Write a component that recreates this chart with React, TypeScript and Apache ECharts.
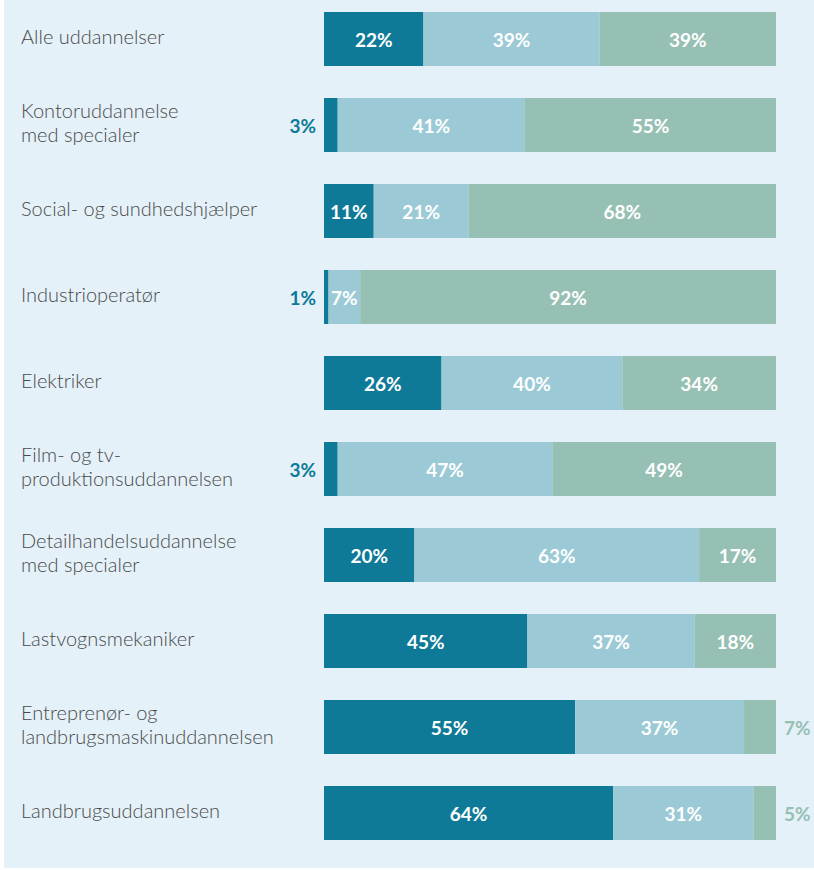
import React, { useEffect, useRef } from "react";
import * as echarts from "echarts";

const categories = [
  "Alle uddannelser",
  "Kontoruddannelse\nmed specialer",
  "Social- og sundhedshjælper",
  "Industrioperatør",
  "Elektriker",
  "Film- og tv-\nproduktionsuddannelsen",
  "Detailhandelsuddannelse\nmed specialer",
  "Lastvognsmekaniker",
  "Entreprenør- og\nlandbrugsmaskinuddannelsen",
  "Landbrugsuddannelsen",
];
const seriesA = [22, 3, 11, 1, 26, 3, 20, 45, 55, 64];
const seriesB = [39, 41, 21, 7, 40, 47, 63, 37, 37, 31];
const seriesC = [39, 55, 68, 92, 34, 49, 17, 18, 7, 5];

const colorA = "#0e7a98";
const colorB = "#9bcad6";
const colorC = "#97c0b4";

export default function App() {
  const ref = useRef<HTMLDivElement>(null);
  useEffect(() => {
    if (!ref.current) return;
    const chart = echarts.init(ref.current, null, { renderer: "svg" });
    const totals = categories.map((_, i) => seriesA[i] + seriesB[i] + seriesC[i]);
    const font = "Lato, 'Noto Sans', sans-serif";
    const mk = (arr: number[], color: string, kind: number) => ({
      type: "bar",
      stack: "s",
      barWidth: 54,
      itemStyle: { color },
      data: arr.map((v, i) => {
        const small = v <= 5 || (kind === 2 && v <= 7);
        let label: any = {
          show: true,
          position: "inside",
          color: "#ffffff",
          fontFamily: font,
          fontWeight: "bold",
          fontSize: 19,
          formatter: `${v}%`,
        };
        if (small && kind === 0) {
          label = { ...label, position: "left", distance: 8, color: colorA };
        } else if (small && kind === 2) {
          label = { ...label, position: "right", distance: 8, color: colorC };
        }
        return { value: (v / totals[i]) * 100, label };
      }),
    });
    chart.setOption({
      animation: false,
      graphic: [
        {
          type: "rect",
          shape: { x: 4, y: 4, width: 810, height: 868 },
          style: { fill: "#e4f1f8" },
          z: -10,
          silent: true,
        },
      ],
      grid: { left: 324, right: 38, top: 0, bottom: 14, containLabel: false },
      xAxis: {
        type: "value",
        min: 0,
        max: 100,
        show: false,
      },
      yAxis: {
        type: "category",
        inverse: true,
        data: categories,
        axisLine: { show: false },
        axisTick: { show: false },
        axisLabel: {
          align: "left",
          margin: 303,
          formatter: (v: string) =>
            v
              .split("\n")
              .map((l) => `{t|${l}}`)
              .join("\n"),
          rich: {
            t: {
              color: "#4a4a4a",
              fontFamily: font,
              fontWeight: 300,
              fontSize: 20,
              lineHeight: 24,
              padding: [0, 0, 6, 0],
              align: "left",
            },
          },
        },
      },
      series: [mk(seriesA, colorA, 0), mk(seriesB, colorB, 1), mk(seriesC, colorC, 2)],
    });
    return () => chart.dispose();
  }, []);
  return (
    <div
      ref={ref}
      style={{ position: "absolute", left: 0, top: -4, width: 814, height: 874 }}
    />
  );
}
